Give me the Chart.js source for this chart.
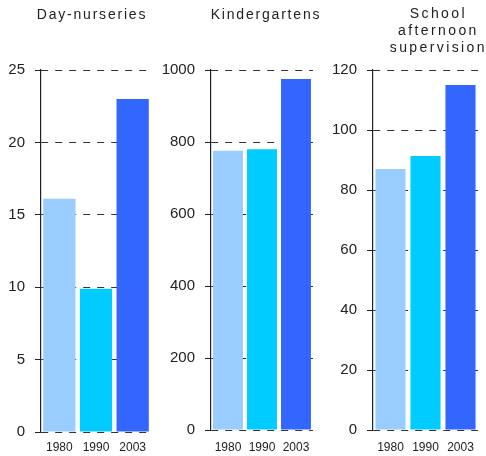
<!DOCTYPE html>
<html>
<head>
<meta charset="utf-8">
<script src="https://cdn.jsdelivr.net/npm/chart.js@4/dist/chart.umd.min.js"></script>
<style>
  html, body { margin: 0; padding: 0; background: #fff; }
  #wrap { position: relative; width: 486px; height: 456px; overflow: hidden; font-family: "Liberation Sans", Arial, sans-serif; color: #222; }
  canvas { position: absolute; top: 0; }
  .title { position: absolute; font-size: 14px; line-height: 17px; text-align: center; white-space: nowrap; }
</style>
</head>
<body>
<div id="wrap">
  <canvas id="c1" width="160" height="456" style="left:0px"></canvas>
  <canvas id="c2" width="160" height="456" style="left:160px"></canvas>
  <canvas id="c3" width="166" height="456" style="left:320px"></canvas>
  <div class="title" style="left:20px; width:140px; top:6px; letter-spacing:1.8px; padding-left:2px;">Day-nurseries</div>
  <div class="title" style="left:194px; width:140px; top:6px; letter-spacing:1.8px; padding-left:2px;">Kindergartens</div>
  <div class="title" style="left:376px; width:120px; top:5px; letter-spacing:2.4px; padding-left:2.4px;">School<br>afternoon<br>supervision</div>
</div>
<script>
// Years shown under each group of bars
const years = ['1980', '1990', '2003'];

// Values per facility type
const dayNurseries = [16.1, 9.9, 23.0];
const kindergartens = [776, 780, 975];
const schoolSupervision = [87, 91.3, 115];

// Value-axis ranges and step sizes per panel
const axisMax = [25, 1000, 120];
const axisStep = [5, 200, 20];

// One colour per year
const yearColors = ['#99CCFF', '#00CCFF', '#3366FF'];

const FONT = '"Liberation Sans", Arial, sans-serif';

function makePanel(id, values, max, step, layout) {
  return new Chart(document.getElementById(id), {
    type: 'bar',
    data: {
      labels: years,
      datasets: [{
        data: values,
        backgroundColor: yearColors,
        borderWidth: 0,
        barPercentage: 1,
        categoryPercentage: layout.catPct
      }]
    },
    options: {
      responsive: false,
      animation: false,
      devicePixelRatio: 1,
      layout: { padding: { top: 70, right: layout.right, bottom: layout.bottom, left: 0 } },
      plugins: { legend: { display: false }, tooltip: { enabled: false }, title: { display: false } },
      scales: {
        x: {
          grid: { display: false, drawTicks: false },
          border: { display: false },
          ticks: { color: '#222', padding: layout.xPad, font: { family: FONT, size: 12 } },
          afterFit: s => { s.height = 24; }
        },
        y: {
          min: 0,
          max: max,
          ticks: {
            stepSize: step, color: '#222', padding: 10,
            font: { family: FONT, size: 15 },
            callback: v => String(v)
          },
          grid: { color: '#333', lineWidth: 1, tickLength: 6, tickColor: '#222', tickWidth: 1 },
          border: { display: true, color: '#222', width: 1.2, dash: [7, 7] },
          afterFit: s => { s.width = layout.yWidth; }
        }
      }
    }
  });
}

makePanel('c1', dayNurseries, axisMax[0], axisStep[0], { yWidth: 41, right: 9, bottom: 0, xPad: 8, catPct: 0.88 });
makePanel('c2', kindergartens, axisMax[1], axisStep[1], { yWidth: 51, right: 4, bottom: 2, xPad: 10, catPct: 0.88 });
makePanel('c3', schoolSupervision, axisMax[2], axisStep[2], { yWidth: 53, right: 8, bottom: 2, xPad: 10, catPct: 0.86 });
</script>
</body>
</html>
